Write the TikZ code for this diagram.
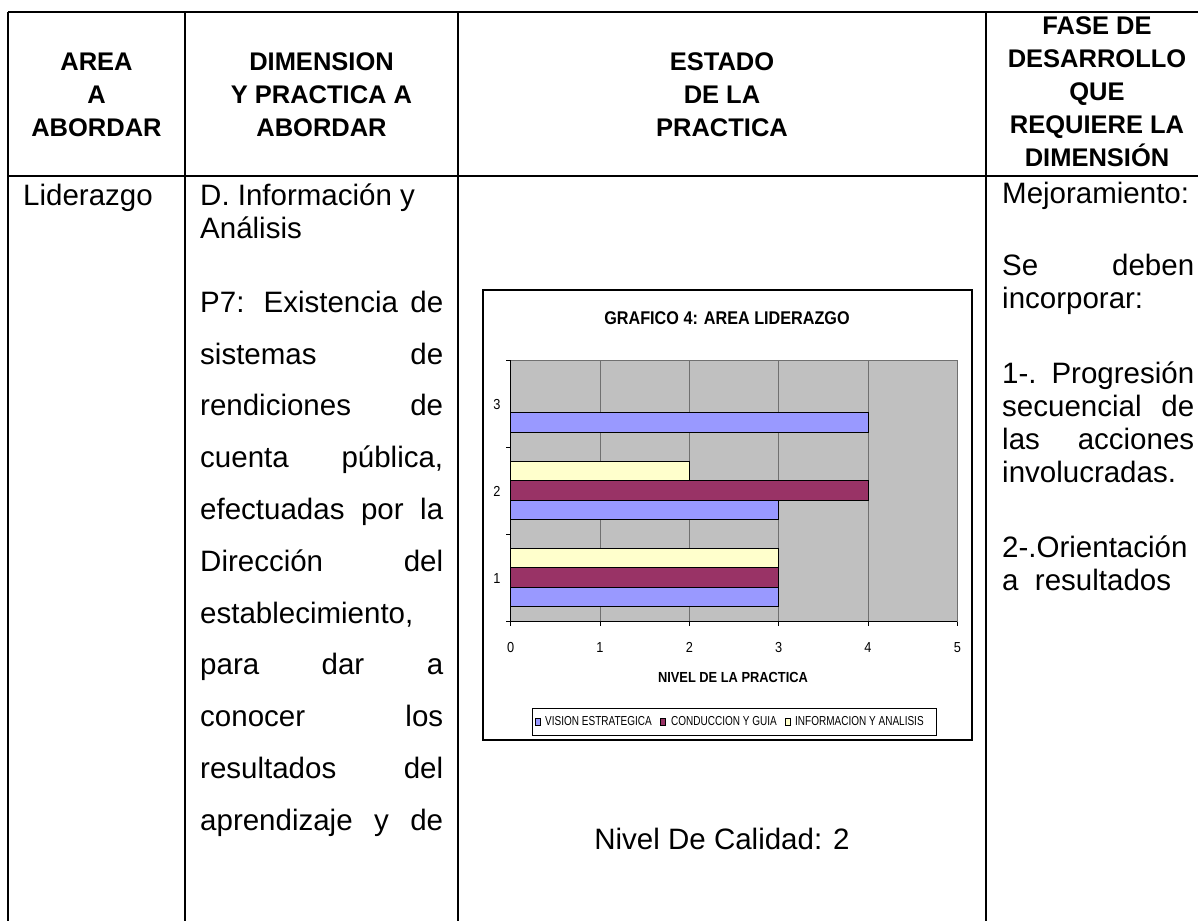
\documentclass[tikz,border=0pt]{standalone}
\usepackage{fontspec}
\setmainfont{Liberation Sans}
\newfontfamily\chartfont[FakeStretch=0.88]{Liberation Sans}
\newfontfamily\legendfont[FakeStretch=0.77]{Liberation Sans}
\definecolor{vblue}{HTML}{9999FF}
\definecolor{vmaroon}{HTML}{993366}
\definecolor{vyellow}{HTML}{FFFFCC}
\definecolor{plotgray}{HTML}{C0C0C0}
\definecolor{gridgray}{HTML}{707070}
\tikzset{
  tbl/.style={line width=2pt, black},
  hd/.style={font=\fontsize{25.5}{33}\selectfont\bfseries, inner sep=0pt, anchor=base},
  bd/.style={font=\fontsize{29.5}{34}\selectfont, inner sep=0pt, anchor=base west},
  ctitle/.style={font=\chartfont\fontsize{18.4}{20}\selectfont\bfseries, inner sep=0pt},
  ctick/.style={font=\chartfont\fontsize{14.5}{16}\selectfont, inner sep=0pt, anchor=base},
  clegend/.style={font=\legendfont\fontsize{13}{15}\selectfont, inner sep=0pt, anchor=west},
  bar/.style={draw=black, line width=0.8pt},
  lsq/.style={draw=black, line width=0.7pt},
}
\newcommand{\chartbar}[4]{\filldraw[bar, fill=#1] (510.7,{#2+#3}) rectangle ({510.7+89.33*#4},{#2+#3+19.35});}
\begin{document}
\begin{tikzpicture}[x=1pt,y=-1pt]
\useasboundingbox (0,0) rectangle (1198,920);
\begin{scope}
\clip (0,0) rectangle (1198,920);
% table grid
\draw[tbl] (8,12) -- (1215,12);
\draw[tbl] (8,176) -- (1215,176);
\foreach \xx in {8,185,458,986} { \draw[tbl] (\xx,12) -- (\xx,930); }
\end{scope}

% header texts
\node[hd] (h1a) at (96.5,71) {AREA};
\node[hd] (h1b) at (96.5,104) {A};
\node[hd] (h1c) at (96.5,137) {ABORDAR};
\node[hd] (h2a) at (321.5,71) {DIMENSION};
\node[hd] (h2b) at (321.5,104) {Y PRACTICA A};
\node[hd] (h2c) at (321.5,137) {ABORDAR};
\node[hd] (h3a) at (722,71) {ESTADO};
\node[hd] (h3b) at (722,104) {DE LA};
\node[hd] (h3c) at (722,137) {PRACTICA};
\node[hd] (h4a) at (1097,35) {FASE DE};
\node[hd] (h4b) at (1097,68) {DESARROLLO};
\node[hd] (h4c) at (1097,101) {QUE};
\node[hd] (h4d) at (1097,134) {REQUIERE LA};
\node[hd] (h4e) at (1097,167) {DIMENSIÓN};

% column 1
\node[bd] (c1) at (23,205) {Liderazgo};

% column 2
\node[bd] (c2a) at (200,205) {D. Información y};
\node[bd] (c2b) at (200,238) {Análisis};
\node[bd] (c2c) at (200,312) {\makebox[243pt][s]{P7: Existencia de}};
\node[bd] (c2d) at (200,364) {\makebox[243pt][s]{sistemas de}};
\node[bd] (c2e) at (200,415) {\makebox[243pt][s]{rendiciones de}};
\node[bd] (c2f) at (200,467) {\makebox[243pt][s]{cuenta pública,}};
\node[bd] (c2g) at (200,519) {\makebox[243pt][s]{efectuadas por la}};
\node[bd] (c2h) at (200,571) {\makebox[243pt][s]{Dirección del}};
\node[bd] (c2i) at (200,623) {establecimiento,};
\node[bd] (c2j) at (200,674) {\makebox[243pt][s]{para dar a}};
\node[bd] (c2k) at (200,726) {\makebox[243pt][s]{conocer los}};
\node[bd] (c2l) at (200,778) {\makebox[243pt][s]{resultados del}};
\node[bd] (c2m) at (200,830) {\makebox[243pt][s]{aprendizaje y de}};

% column 4
\node[bd] (c4a) at (1002,204) {Mejoramiento:};
\node[bd] (c4b) at (1002,275) {\makebox[192pt][s]{Se deben}};
\node[bd] (c4c) at (1002,308) {incorporar:};
\node[bd] (c4d) at (1002,383) {\makebox[192pt][s]{1-. Progresión}};
\node[bd] (c4e) at (1002,416) {\makebox[192pt][s]{secuencial de}};
\node[bd] (c4f) at (1002,449) {\makebox[192pt][s]{las acciones}};
\node[bd] (c4g) at (1002,482) {involucradas.};
\node[bd] (c4h) at (1002,557) {2-.Orientación};
\node[bd] (c4i) at (1002,590) {a\ \ resultados};

% column 3: quality level
\node[bd, anchor=base] (nivel) at (722,849) {Nivel De Calidad: 2};

% chart
\draw[line width=1.1pt] (483,290) rectangle (972,740);
\node[ctitle] (ctitle) at (727,318) {GRAFICO 4: AREA LIDERAZGO};
\fill[plotgray] (510.7,360) rectangle (957.3,621.7);
\draw[gridgray, line width=0.8pt] (510.7,360) -- (957.3,360) -- (957.3,621.7);
\foreach \i in {1,2,3,4} { \draw[gridgray, line width=0.8pt] ({510.7+89.33*\i},360) -- ({510.7+89.33*\i},621.7); }
% category 3
\chartbar{vblue}{360}{52.7}{4}
% category 2
\chartbar{vyellow}{447.2}{14}{2}
\chartbar{vmaroon}{447.2}{33.35}{4}
\chartbar{vblue}{447.2}{52.7}{3}
% category 1
\chartbar{vyellow}{534.5}{14}{3}
\chartbar{vmaroon}{534.5}{33.35}{3}
\chartbar{vblue}{534.5}{52.7}{3}
% axes
\draw[black, line width=0.8pt] (510.7,360) -- (510.7,621.7) -- (957.3,621.7);
\foreach \yy in {360,447.2,534.5,621.7} { \draw[black, line width=0.8pt] (506,\yy) -- (510.7,\yy); }
\foreach \i in {0,...,5} { \draw[black, line width=0.8pt] ({510.7+89.33*\i},621.7) -- ({510.7+89.33*\i},626); }
\node[ctick] (y3) at (497,409) {3};
\node[ctick] (y2) at (497,496) {2};
\node[ctick] (y1) at (497,583) {1};
\foreach \i in {0,...,5} { \node[ctick] (x\i) at ({510.7+89.33*\i},652) {\i}; }
\node[ctitle, font=\chartfont\fontsize{14.6}{16}\selectfont\bfseries] (xtitle) at (733,677) {NIVEL DE LA PRACTICA};
% legend
\draw[line width=0.8pt] (532,708) rectangle (936,735);
\filldraw[lsq, fill=vblue] (535.5,718) rectangle (540.5,725);
\node[clegend] (l1) at (545,721.5) {VISION ESTRATEGICA};
\filldraw[lsq, fill=vmaroon] (660,718) rectangle (665,725);
\node[clegend] (l2) at (671,721.5) {CONDUCCION Y GUIA};
\filldraw[lsq, fill=vyellow] (785,718) rectangle (790,725);
\node[clegend] (l3) at (795,721.5) {INFORMACION Y ANALISIS};
\end{tikzpicture}
\end{document}
